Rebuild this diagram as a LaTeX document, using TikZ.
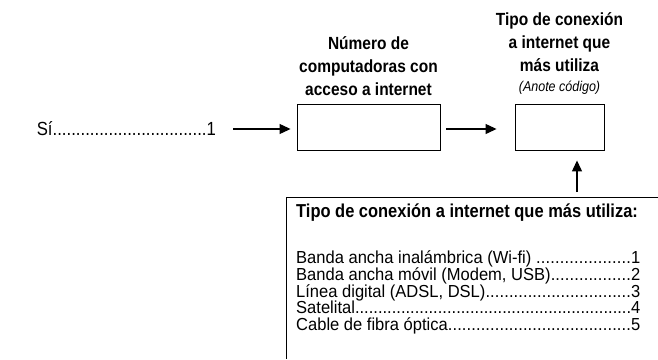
\documentclass[tikz,border=0pt]{standalone}
\usepackage{fontspec}
\setmainfont[FakeStretch=0.88]{Liberation Sans}
\newfontfamily\listfont[FakeStretch=0.95]{Liberation Sans}
\usetikzlibrary{arrows.meta,positioning}

\newcommand{\puntos}{\xleaders\hbox{.}\hfill}
\newcommand{\opcion}[2]{\hbox to 344pt{#1\puntos #2}}

\begin{document}
\begin{tikzpicture}[x=1pt,y=-1pt,
  flecha/.style={-{Triangle[length=11pt,width=10pt]},line width=1.2pt},
  casilla/.style={draw,line width=0.9pt,minimum height=46pt,inner sep=0pt},
  titulo/.style={font=\bfseries\fontsize{17.6}{23}\selectfont,align=center,inner sep=0pt}]
\useasboundingbox (0,0) rectangle (658,359);

% casillas
\node[casilla,minimum width=143pt] (num) at (368.5,127) {};
\node[casilla,minimum width=89pt] (tipo) at (559.5,127) {};
\node[anchor=east,inner sep=0pt,font=\fontsize{19}{19}\selectfont] (si) at (216,129) {\hbox to 179pt{Sí\puntos 1}};

% titulos
\node[titulo,above=8pt of num] (tnum) {Número de\\computadoras con\\acceso a internet};
\node[titulo,above=9pt of tipo] (ttipo) {Tipo de conexión\\a internet que\\más utiliza\\[-3pt]{\mdseries\itshape\fontsize{14.2}{15}\selectfont(Anote código)}};

% flechas
\draw[flecha] ([xshift=17pt]si.east) -- ([xshift=-6pt]si.east -| num.west);
\draw[flecha] ([xshift=6pt]si.east -| num.east) -- ([xshift=-18pt]si.east -| tipo.west);

% recuadro de codigos
\coordinate (esq) at (286,197);
\coordinate (base) at (577,192);
\path (base |- tipo.south) ++(0,10) coordinate (punta);
\draw[line width=0.9pt] (658,197) -- (esq) -- (286,359);
\draw[flecha] (base) -- (punta);
\node[anchor=north west,inner sep=0pt,align=left,font=\listfont\fontsize{17.4}{16.7}\selectfont] (codigos) at (296,204) {%
  {\rmfamily\fontsize{18.7}{18.7}\selectfont\bfseries Tipo de conexión a internet que más utiliza:}\\[29pt]
  \opcion{Banda ancha inalámbrica (Wi-fi) }{1}\\
  \opcion{Banda ancha móvil (Modem, USB)}{2}\\
  \opcion{Línea digital (ADSL, DSL)}{3}\\
  \opcion{Satelital}{4}\\
  \opcion{Cable de fibra óptica}{5}};
\end{tikzpicture}
\end{document}
